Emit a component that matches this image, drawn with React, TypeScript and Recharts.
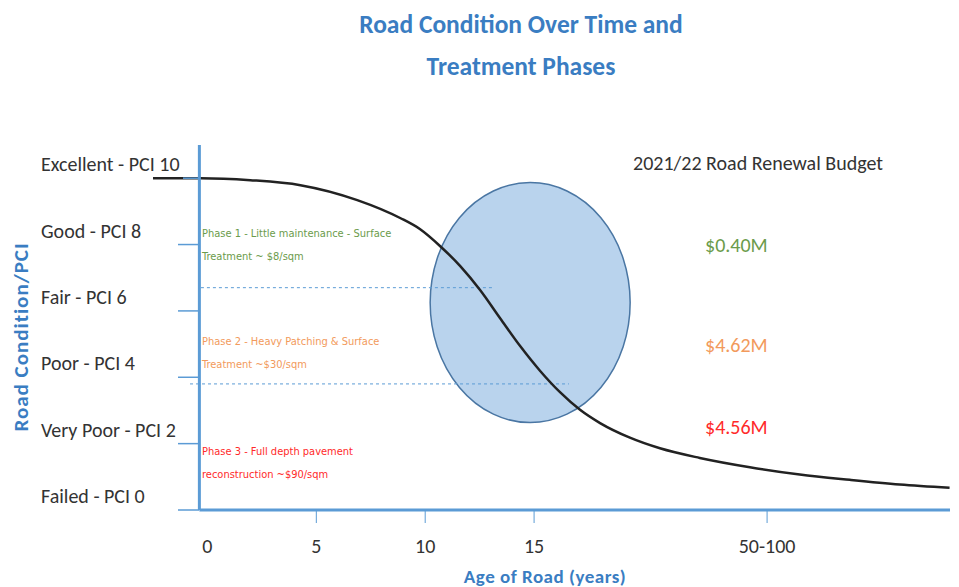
import React from 'react'
import { ComposedChart, Line, XAxis, YAxis, ReferenceLine, ReferenceDot } from 'recharts'

// curve: age (axis units) vs PCI
const ageYears = [-2.5, -0.32, 1.97, 4.27, 6.88, 8.85, 9.77, 10.69, 11.61, 12.52, 13.44, 14.36, 15.28, 16.19, 17.11, 18.03, 19.4, 20.78, 22.61, 24.91, 27.2, 29.5, 31.79, 34.08]
const pciValues = [10.0, 10.0, 9.94, 9.79, 9.34, 8.8, 8.46, 7.95, 7.35, 6.63, 5.78, 4.94, 4.19, 3.55, 3.02, 2.62, 2.18, 1.86, 1.57, 1.29, 1.07, 0.91, 0.77, 0.67]

const xTickValues = [0, 5, 10, 15, 25.7]
const xTickLabels = ['0', '5', '10', '15', '50-100']
const yTickValues = [0, 2, 4, 6, 8, 10]
const yTickLabels = ['Failed - PCI 0', 'Very Poor - PCI 2', 'Poor - PCI 4', 'Fair - PCI 6', 'Good - PCI 8', 'Excellent - PCI 10']

// phase split lines (PCI level, from age, to age)
const phaseSplitPci = [6.7, 3.8]
const phaseSplitFrom = [-0.3, -0.8]
const phaseSplitTo = [13.1, 16.6]

const phaseTexts = [
  ['Phase 1 - Little maintenance - Surface', 'Treatment ~ $8/sqm'],
  ['Phase 2 - Heavy Patching & Surface', 'Treatment ~$30/sqm'],
  ['Phase 3 -  Full depth pavement', 'reconstruction ~$90/sqm'],
]
const phaseColors = ['#6b9b4b', '#f29a5c', '#ff2a2a']
const budgetTitle = '2021/22 Road Renewal Budget'
const budgetValues = ['$0.40M', '$4.62M', '$4.56M']

// focus zone (ellipse centre)
const focusAge = 14.82
const focusPci = 6.25

const data = ageYears.map((a, i) => ({ age: a, pci: pciValues[i] }))

const FONT = 'Carlito, Calibri, Lato, sans-serif'
const NARROW = "'Liberation Sans Narrow', 'Arial Narrow', 'DejaVu Sans Condensed', sans-serif"
const AXIS_BLUE = '#5b9bd5'
const TITLE_BLUE = '#3a7dc2'

const YTick = (props: any) => {
  const { y, payload } = props
  const i = yTickValues.indexOf(payload.value)
  return (
    <g>
      <text x={41} y={y - 14} dominantBaseline="central" fontSize={20} fill="#333" fontFamily={FONT}>
        {yTickLabels[i]}
      </text>
      <line x1={payload.value === 10 ? 183 : 178} x2={199} y1={y} y2={y} stroke={AXIS_BLUE} strokeWidth={1.5} />
    </g>
  )
}

const XTick = (props: any) => {
  const { x, y, payload } = props
  const i = xTickValues.indexOf(payload.value)
  return (
    <g>
      {payload.value !== 0 && <line x1={x} x2={x} y1={y} y2={y + 13} stroke={AXIS_BLUE} strokeWidth={1} />}
      <text x={x} y={y + 36} textAnchor="middle" dominantBaseline="central" fontSize={20} fill="#333" fontFamily={FONT}>
        {xTickLabels[i]}
      </text>
    </g>
  )
}

const Ellipse = (props: any) => (
  <ellipse cx={props.cx} cy={props.cy} rx={100} ry={120} fill="#b9d3ed" stroke="#4a76a3" strokeWidth={1.5} />
)

const abs = (left: number, top: number, extra: React.CSSProperties = {}): React.CSSProperties => ({
  position: 'absolute', left, top, whiteSpace: 'nowrap', ...extra,
})

export default function App() {
  return (
    <div style={{ position: 'relative', width: 959, height: 587, fontFamily: FONT }}>
      <style>{'body{margin:0}'}</style>
      <ComposedChart width={959} height={587} data={data} margin={{ top: 145, right: 9, bottom: 0, left: 0 }}>
        <XAxis
          dataKey="age"
          type="number"
          domain={[-2.5, 34.1]}
          ticks={xTickValues}
          allowDataOverflow
          axisLine={false}
          tickLine={false}
          tickSize={0}
          tickMargin={0}
          height={77}
          tick={XTick}
        />
        <YAxis
          type="number"
          domain={[0, 11]}
          ticks={yTickValues}
          allowDataOverflow
          axisLine={false}
          tickLine={false}
          width={153}
          tick={YTick}
        />
        <ReferenceDot x={focusAge} y={focusPci} shape={Ellipse} ifOverflow="visible" zIndex={100} />
        {phaseSplitPci.map((p, i) => (
          <ReferenceLine
            key={i}
            segment={[{ x: phaseSplitFrom[i], y: p }, { x: phaseSplitTo[i], y: p }]}
            stroke={AXIS_BLUE}
            strokeDasharray="3 3"
            strokeWidth={1}
            ifOverflow="visible"
          />
        ))}
        <Line
          dataKey="pci"
          type="monotone"
          stroke="#222"
          strokeWidth={2.5}
          dot={false}
          isAnimationActive={false}
        />
        <ReferenceLine segment={[{ x: -0.37, y: 0 }, { x: -0.37, y: 11 }]} stroke={AXIS_BLUE} strokeWidth={3} ifOverflow="visible" />
        <ReferenceLine segment={[{ x: -0.37, y: 0 }, { x: 34.1, y: 0 }]} stroke={AXIS_BLUE} strokeWidth={3} ifOverflow="visible" />
      </ComposedChart>

      <div style={abs(0, 4, { width: 1042, textAlign: 'center', color: TITLE_BLUE, fontWeight: 700, fontSize: 25.5, lineHeight: '42px' })}>
        Road Condition Over Time and
        <br />
        Treatment Phases
      </div>

      <div style={abs(21, 337, { transform: 'translate(-50%, -50%) rotate(-90deg)', color: TITLE_BLUE, fontWeight: 700, fontSize: 21, letterSpacing: 1, lineHeight: '24px' })}>
        Road Condition/PCI
      </div>

      <div style={abs(545, 565, { transform: 'translateX(-50%)', color: TITLE_BLUE, fontWeight: 700, fontSize: 19, letterSpacing: 0.5, lineHeight: '24px' })}>
        Age of Road (years)
      </div>

      {phaseTexts.map((lines, i) => (
        <div key={i} style={abs(202, [222, 330, 440][i], { color: phaseColors[i], fontFamily: NARROW, fontSize: 11, lineHeight: '23px' })}>
          {lines[0]}
          <br />
          {lines[1]}
        </div>
      ))}

      <div style={abs(633, 151, { color: '#333', fontSize: 20, lineHeight: '24px' })}>{budgetTitle}</div>
      {budgetValues.map((v, i) => (
        <div key={v} style={abs(705, [233, 333, 415][i], { color: phaseColors[i], fontSize: 20, lineHeight: '24px' })}>
          {v}
        </div>
      ))}
    </div>
  )
}
